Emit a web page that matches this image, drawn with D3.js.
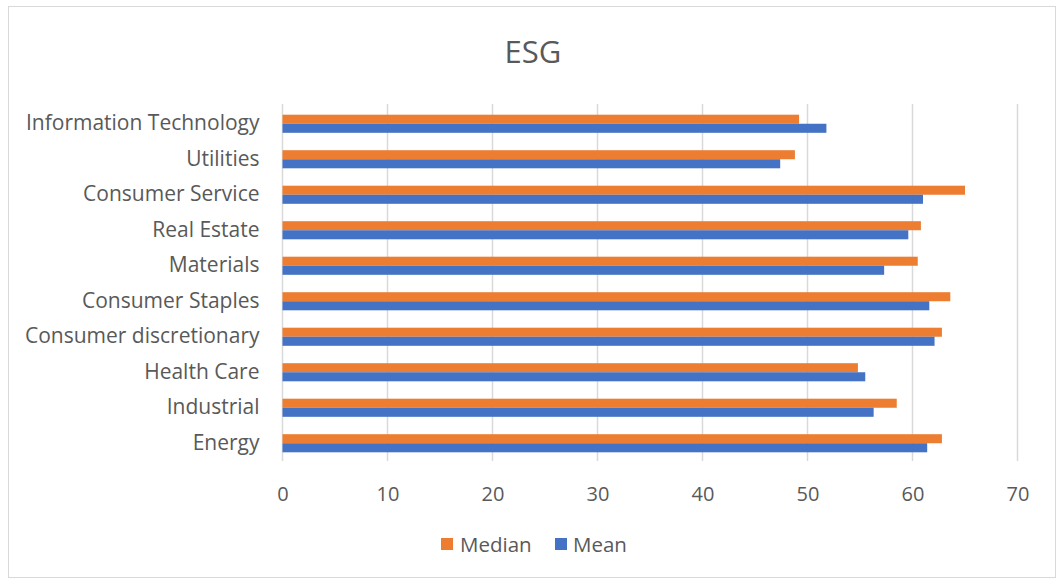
<!DOCTYPE html>
<html>
<head>
<meta charset="utf-8">
<script src="https://cdn.jsdelivr.net/npm/d3@7"></script>
<style>
  html, body { margin: 0; padding: 0; background: #fff; }
  svg { display: block; font-family: "Open Sans", sans-serif; }
</style>
</head>
<body>
<svg id="chart" width="1058" height="580"></svg>
<script>
// Sectors, listed from top to bottom
const categories = [
  "Information Technology", "Utilities", "Consumer Service", "Real Estate",
  "Materials", "Consumer Staples", "Consumer discretionary", "Health Care",
  "Industrial", "Energy"
];
const medianValues = [49.2, 48.8, 65.0, 60.8, 60.5, 63.6, 62.8, 54.8, 58.5, 62.8];
const meanValues   = [51.8, 47.4, 61.0, 59.6, 57.3, 61.6, 62.1, 55.5, 56.3, 61.4];
const seriesNames  = ["Median", "Mean"];
const tickValues   = [0, 10, 20, 30, 40, 50, 60, 70];

const colors = { Median: "#ED7D31", Mean: "#4472C4" };
const textColor = "#595959";
const fontFamily = "'Open Sans', sans-serif";

const svg = d3.select("#chart");

// Outer chart frame
svg.append("rect")
  .attr("x", 8.5).attr("y", 6.5)
  .attr("width", 1047).attr("height", 571)
  .attr("fill", "#fff").attr("stroke", "#d9d9d9").attr("stroke-width", 1);

const plot = { left: 282.5, right: 1017.5, top: 104, bottom: 461 };

const x = d3.scaleLinear().domain([0, 70]).range([plot.left, plot.right]);
const y = d3.scaleBand().domain(categories).range([plot.top + 2, plot.bottom]).paddingInner(0.49).paddingOuter(0.245);
const ySub = d3.scaleBand().domain(seriesNames).range([0, y.bandwidth()]);

// Title
svg.append("text")
  .attr("x", 533).attr("y", 63)
  .attr("text-anchor", "middle")
  .attr("font-size", 31).attr("fill", textColor)
  .attr("font-family", fontFamily)
  .text("ESG");

// Vertical gridlines
svg.append("g")
  .selectAll("line")
  .data(tickValues)
  .join("line")
  .attr("x1", d => x(d)).attr("x2", d => x(d))
  .attr("y1", plot.top).attr("y2", plot.bottom)
  .attr("stroke", "#d9d9d9").attr("stroke-width", 1.5);

// Bars
const rows = categories.map((c, i) => ({ c, Median: medianValues[i], Mean: meanValues[i] }));
const groups = svg.append("g").selectAll("g")
  .data(rows)
  .join("g")
  .attr("transform", d => `translate(0,${y(d.c)})`);

groups.selectAll("rect")
  .data(d => seriesNames.map(s => ({ s, v: d[s] })))
  .join("rect")
  .attr("x", x(0))
  .attr("y", d => ySub(d.s))
  .attr("width", d => x(d.v) - x(0))
  .attr("height", ySub.bandwidth())
  .attr("fill", d => colors[d.s]);

// Category axis (labels only)
const yAxis = svg.append("g")
  .attr("transform", `translate(${plot.left},0)`)
  .call(d3.axisLeft(y).tickSize(0).tickPadding(23));
yAxis.select(".domain").remove();
yAxis.selectAll("text")
  .attr("font-size", 21).attr("fill", textColor)
  .attr("font-family", fontFamily)
  .attr("dy", "0.3em");

// Value axis (labels only)
const xAxis = svg.append("g")
  .attr("transform", `translate(0,${plot.bottom})`)
  .call(d3.axisBottom(x).tickValues(tickValues).tickSize(0).tickPadding(25.5).tickFormat(d3.format("d")));
xAxis.select(".domain").remove();
xAxis.selectAll("text")
  .attr("font-size", 20).attr("fill", textColor)
  .attr("font-family", fontFamily);

// Legend
const legend = svg.append("g");
const legendItems = [
  { s: "Median", sx: 441, tx: 460 },
  { s: "Mean", sx: 555, tx: 573 }
];
legend.selectAll("rect")
  .data(legendItems)
  .join("rect")
  .attr("x", d => d.sx).attr("y", 538)
  .attr("width", 12).attr("height", 12)
  .attr("fill", d => colors[d.s]);
legend.selectAll("text")
  .data(legendItems)
  .join("text")
  .attr("x", d => d.tx).attr("y", 552)
  .attr("font-size", 20.5).attr("fill", textColor)
  .attr("font-family", fontFamily)
  .text(d => d.s);
</script>
</body>
</html>
